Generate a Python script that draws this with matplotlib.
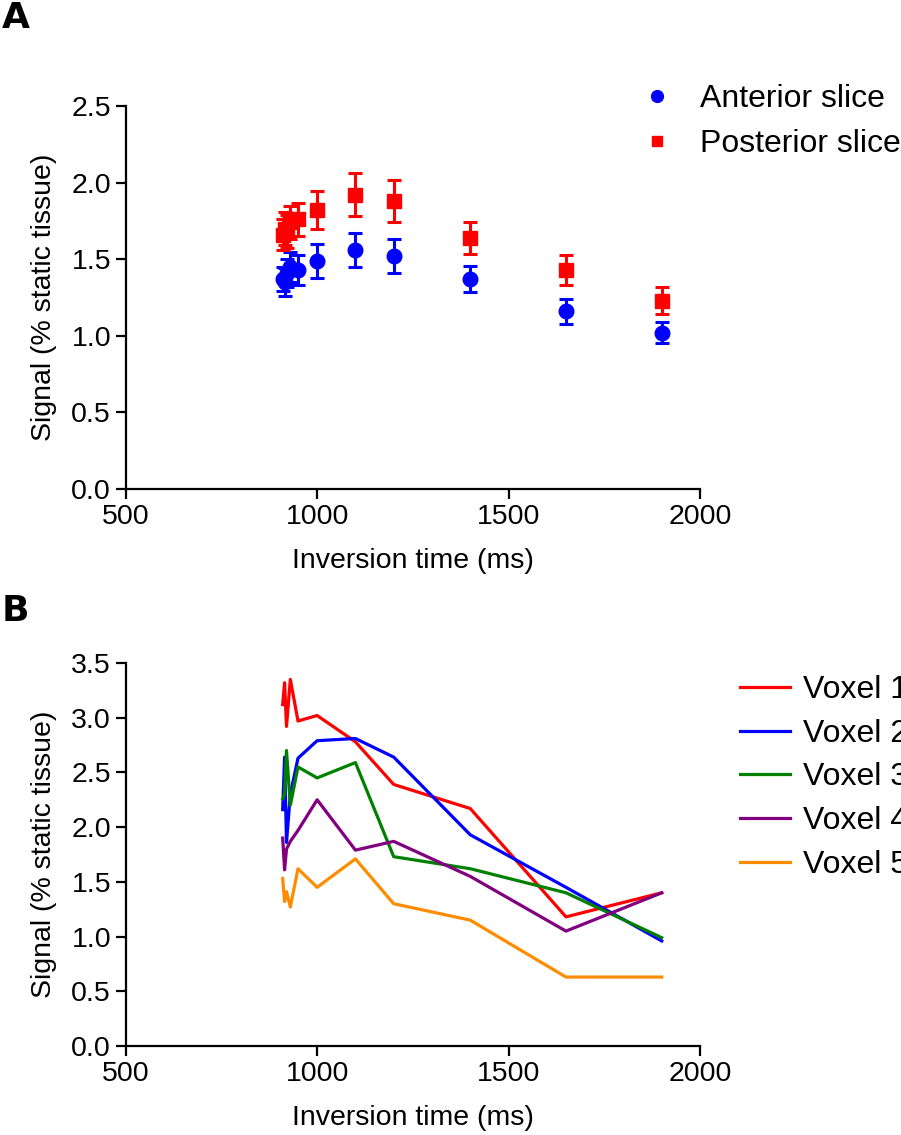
import matplotlib
matplotlib.use("Agg")
import matplotlib.pyplot as plt
from matplotlib.lines import Line2D

plt.rcParams['font.family'] = ['Liberation Sans', 'DejaVu Sans']

# ---------------- data ----------------
ti = [910, 915, 920, 930, 950, 1000, 1100, 1200, 1400, 1650, 1900]

anterior = [1.37, 1.35, 1.41, 1.45, 1.43, 1.49, 1.56, 1.52, 1.37, 1.16, 1.02]
anterior_err = [0.08, 0.09, 0.09, 0.10, 0.10, 0.11, 0.11, 0.11, 0.085, 0.08, 0.07]
posterior = [1.66, 1.70, 1.68, 1.74, 1.76, 1.82, 1.92, 1.88, 1.64, 1.43, 1.23]
posterior_err = [0.10, 0.11, 0.11, 0.11, 0.11, 0.125, 0.14, 0.135, 0.105, 0.10, 0.09]

voxel_labels = ["Voxel 1", "Voxel 2", "Voxel 3", "Voxel 4", "Voxel 5"]
voxel1 = [3.12, 3.32, 2.92, 3.35, 2.97, 3.02, 2.78, 2.39, 2.17, 1.18, 1.40]
voxel2 = [2.16, 2.64, 1.86, 2.30, 2.63, 2.79, 2.81, 2.64, 1.93, 1.45, 0.96]
voxel3 = [2.26, 2.30, 2.70, 2.20, 2.55, 2.45, 2.59, 1.73, 1.62, 1.40, 0.99]
voxel4 = [1.90, 1.61, 1.80, 1.87, 1.97, 2.25, 1.79, 1.87, 1.55, 1.05, 1.40]
voxel5 = [1.53, 1.32, 1.41, 1.27, 1.62, 1.45, 1.71, 1.30, 1.15, 0.63, 0.63]
voxel_colors = ["#ff0000", "#0000ff", "#008000", "#800080", "#ff8c00"]

xticks = [500, 1000, 1500, 2000]
yticks_a = [0.0, 0.5, 1.0, 1.5, 2.0, 2.5]
yticks_b = [0.0, 0.5, 1.0, 1.5, 2.0, 2.5, 3.0, 3.5]

# ---------------- figure ----------------
W, H = 901, 1135
fig = plt.figure(figsize=(W / 100, H / 100), dpi=100)

def ax_rect(left, right, top, bottom):
    return [left / W, 1 - bottom / H, (right - left) / W, (bottom - top) / H]

axA = fig.add_axes(ax_rect(125.7, 700, 106, 489))
axB = fig.add_axes(ax_rect(125.7, 700, 663, 1046))

FS = 20.5
LFS = 23

def style(ax, yticks):
    for s in ['top', 'right']:
        ax.spines[s].set_visible(False)
    for s in ['left', 'bottom']:
        ax.spines[s].set_linewidth(1.6)
    ax.set_xlim(500, 2000)
    ax.set_ylim(yticks[0], yticks[-1])
    ax.set_xticks(xticks)
    ax.set_xticklabels([str(v) for v in xticks])
    ax.set_yticks(yticks)
    ax.set_yticklabels([f"{v:.1f}" for v in yticks])
    ax.tick_params(direction='out', length=7.5, width=1.6, labelsize=FS, pad=3)
    ax.set_xlabel("Inversion time (ms)", fontsize=FS)
    ax.set_ylabel("Signal (% static tissue)", fontsize=FS)
    ax.xaxis.set_label_coords(0.5, -0.155)
    ax.yaxis.set_label_coords(-0.12, 0.5)
    for sp in ax.spines.values():
        sp.set_clip_on(False)

# Panel A
axA.errorbar(ti, anterior, yerr=anterior_err, fmt='o', color='#0000ff', ms=10.5,
             elinewidth=2.2, capsize=5, capthick=2.2, clip_on=False, zorder=3)
axA.errorbar(ti, posterior, yerr=posterior_err, fmt='s', color='#ff0000', ms=9.5,
             elinewidth=2.2, capsize=5, capthick=2.2, clip_on=False, zorder=3)
style(axA, yticks_a)

hA = [Line2D([], [], ls='none', marker='o', color='#0000ff', ms=8.5),
      Line2D([], [], ls='none', marker='s', color='#ff0000', ms=7.5)]
fig.legend(hA, ["Anterior slice", "Posterior slice"], loc='upper left',
           bbox_to_anchor=(641 / W, 1 - 84 / H), frameon=False, fontsize=LFS,
           handlelength=1.0, handletextpad=0.85, labelspacing=0.46,
           borderpad=0, borderaxespad=0)

# Panel B
for vals, lab, col in zip([voxel1, voxel2, voxel3, voxel4, voxel5], voxel_labels, voxel_colors):
    axB.plot(ti, vals, color=col, lw=2.3, label=lab, clip_on=False)
style(axB, yticks_b)
fig.legend(*axB.get_legend_handles_labels(), loc='upper left',
           bbox_to_anchor=(740 / W, 1 - 675 / H), frameon=False, fontsize=LFS,
           handlelength=1.57, handletextpad=0.41, labelspacing=0.43,
           borderpad=0, borderaxespad=0)

fig.text(2 / W, 1 - 1 / H, "A", fontsize=26, fontweight='bold', va='top', ha='left',
         family='DejaVu Sans')
fig.text(2 / W, 1 - 594 / H, "B", fontsize=26, fontweight='bold', va='top', ha='left',
         family='DejaVu Sans')

fig.savefig("out.png", dpi=100)
